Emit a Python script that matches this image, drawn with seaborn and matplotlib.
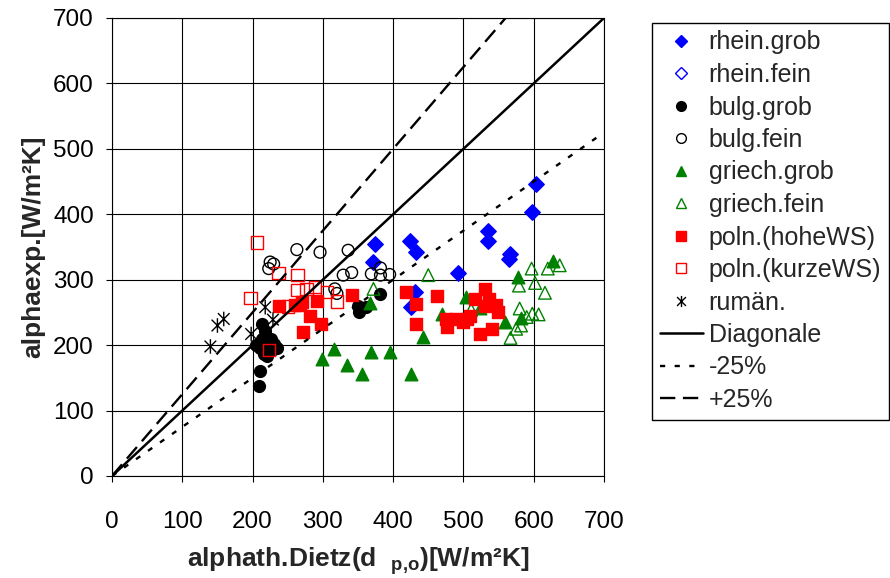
import numpy as np
import pandas as pd
import matplotlib
matplotlib.use("Agg")
import matplotlib.pyplot as plt
from matplotlib.path import Path
from matplotlib.lines import Line2D
import seaborn as sns

# ---- measured values [W/m²K]: theoretical (Dietz) vs. experimental ----
rhein_grob_x = [372, 374, 424, 432, 426, 431, 492, 535, 535, 566, 565, 598, 603]
rhein_grob_y = [327, 354, 359, 342, 258, 281, 310, 375, 359, 340, 332, 403, 447]

rhein_fein_x = []
rhein_fein_y = []

bulg_grob_x = [209, 211, 214, 218, 214, 222, 211, 228, 220, 235, 226, 216, 205, 230,
               350, 352, 362, 381]
bulg_grob_y = [138, 161, 233, 222, 210, 200, 196, 192, 184, 195, 210, 186, 200, 202,
               260, 250, 258, 278]

bulg_fein_x = [223, 225, 230, 263, 296, 336, 317, 320, 329, 341, 369, 382, 382, 395]
bulg_fein_y = [317, 327, 324, 346, 342, 345, 286, 279, 307, 311, 309, 318, 307, 308]

griech_grob_x = [299, 316, 335, 355, 367, 369, 395, 426, 443, 469, 503, 523, 559, 578, 582, 628]
griech_grob_y = [179, 194, 170, 156, 265, 189, 189, 156, 213, 248, 273, 257, 236, 304, 242, 328]

griech_fein_x = [372, 450, 511, 567, 575, 582, 590, 580, 598, 607, 579, 602, 616, 597, 620, 637]
griech_fein_y = [286, 307, 254, 211, 225, 230, 243, 256, 248, 247, 291, 295, 280, 317, 317, 322]

poln_hohe_x = [237, 261, 270, 291, 268, 282, 298, 272, 341, 419, 433, 432, 462, 475,
               477, 490, 505, 516, 530, 537, 547, 549, 523, 540, 530, 500, 510]
poln_hohe_y = [260, 262, 266, 268, 261, 245, 233, 220, 276, 281, 263, 232, 275, 240,
               228, 240, 240, 271, 286, 271, 261, 250, 217, 225, 260, 235, 245]

poln_kurz_x = [197, 206, 223, 237, 250, 264, 264, 277, 289, 306, 320]
poln_kurz_y = [272, 357, 193, 310, 259, 307, 284, 286, 289, 281, 267]

rumaen_x = [140, 150, 159, 198, 218, 229]
rumaen_y = [198, 230, 240, 217, 258, 239]

series_names = ["rhein.grob", "rhein.fein", "bulg.grob", "bulg.fein", "griech.grob",
                "griech.fein", "poln.(hoheWS)", "poln.(kurzeWS)", "rumän."]
ticks = [0, 100, 200, 300, 400, 500, 600, 700]
ref_factors = [1.0, 0.75, 1.25]
ref_names = ["Diagonale", "-25%", "+25%"]

# ---- styling ----
sns.set_style("white")
plt.rcParams["font.family"] = ["Liberation Sans", "DejaVu Sans"]
plt.rcParams["mathtext.fontset"] = "custom"
plt.rcParams["mathtext.rm"] = "Liberation Sans"
plt.rcParams["mathtext.bf"] = "Liberation Sans:bold"

TICK_FS = 17.5
LEGEND_FS = 18
LABEL_FS = 19

# asterisk: X with a vertical bar
star_path = Path(
    [(0, -1), (0, 1), (-0.8, -0.8), (0.8, 0.8), (-0.8, 0.8), (0.8, -0.8)],
    [Path.MOVETO, Path.LINETO, Path.MOVETO, Path.LINETO, Path.MOVETO, Path.LINETO],
)

BLUE, GREEN, RED, BLACK = "#0000ff", "#008000", "#ff0000", "#000000"
styles = {
    "rhein.grob":     dict(marker="D", s=62, fc=BLUE, ec=BLUE),
    "rhein.fein":     dict(marker="D", s=62, fc="none", ec=BLUE),
    "bulg.grob":      dict(marker="o", s=72, fc=BLACK, ec=BLACK),
    "bulg.fein":      dict(marker="o", s=72, fc="none", ec=BLACK),
    "griech.grob":    dict(marker="^", s=82, fc=GREEN, ec=GREEN),
    "griech.fein":    dict(marker="^", s=82, fc="none", ec=GREEN),
    "poln.(hoheWS)":  dict(marker="s", s=80, fc=RED, ec=RED),
    "poln.(kurzeWS)": dict(marker="s", s=80, fc="none", ec=RED),
    "rumän.":         dict(marker=star_path, s=110, fc="none", ec=BLACK),
}

xs = [rhein_grob_x, rhein_fein_x, bulg_grob_x, bulg_fein_x, griech_grob_x,
      griech_fein_x, poln_hohe_x, poln_kurz_x, rumaen_x]
ys = [rhein_grob_y, rhein_fein_y, bulg_grob_y, bulg_fein_y, griech_grob_y,
      griech_fein_y, poln_hohe_y, poln_kurz_y, rumaen_y]

df = pd.concat(
    [pd.DataFrame({"x": x, "y": y, "serie": n}) for n, x, y in zip(series_names, xs, ys)],
    ignore_index=True,
)

fig = plt.figure(figsize=(8.9, 5.78), dpi=100)
ax = fig.add_axes([112 / 890, 1 - 476 / 578, (604 - 112) / 890, (476 - 18) / 578])

for name in series_names:
    sub = df[df["serie"] == name]
    if sub.empty:
        continue
    st = styles[name]
    sns.scatterplot(data=sub, x="x", y="y", ax=ax, marker=st["marker"], s=st["s"],
                    facecolor=st["fc"], edgecolor=st["ec"], linewidth=1.0,
                    zorder=3, legend=False)

# reference lines y = f * x
line_x = np.array([0, 700])
ref_styles = [
    dict(color=BLACK, lw=1.8, ls="-"),
    dict(color=BLACK, lw=1.7, dashes=(2.2, 4.0)),
    dict(color=BLACK, lw=1.7, dashes=(6.5, 3.2)),
]
for f, kw in zip(ref_factors, ref_styles):
    sns.lineplot(x=line_x, y=f * line_x, ax=ax, zorder=4, **kw)

ax.set_xlim(0, 700)
ax.set_ylim(0, 700)
ax.set_xticks(ticks)
ax.set_yticks(ticks)
ax.grid(True, color="black", lw=0.8, zorder=0)
ax.set_axisbelow(True)
for sp in ax.spines.values():
    sp.set_color("black")
    sp.set_linewidth(0.8)
ax.tick_params(axis="both", direction="out", length=4, width=0.8, colors="black",
               labelsize=TICK_FS)
ax.tick_params(axis="x", pad=21)
ax.tick_params(axis="y", pad=9)
ax.tick_params(bottom=True, left=True)

ax.set_xlabel(r"alphath.Dietz(d  $_{\mathbf{p{,}o}}$)[W/m²K]", fontsize=LABEL_FS,
              fontweight="bold", labelpad=9)
ax.set_ylabel("alphaexp.[W/m²K]", fontsize=LABEL_FS, fontweight="bold", labelpad=6)

# legend
leg_ms = {"D": 6, "o": 7, "^": 7, "s": 7}
handles = []
for name in series_names:
    st = styles[name]
    m = st["marker"]
    ms = leg_ms.get(m, 8) if isinstance(m, str) else 8
    handles.append(Line2D([], [], ls="none", marker=m, markersize=ms,
                          markerfacecolor=st["fc"], markeredgecolor=st["ec"],
                          markeredgewidth=1.0))
for kw in ref_styles:
    handles.append(Line2D([], [], **kw))
labels = series_names + ref_names

fig.legend(handles, labels, loc="upper left", bbox_to_anchor=(652 / 890, 1 - 22.5 / 578),
           borderaxespad=0, fontsize=LEGEND_FS, frameon=True, fancybox=False,
           edgecolor="black", framealpha=1, handlelength=1.7, handletextpad=0.25,
           labelspacing=0.34, borderpad=0.32)

fig.savefig("out.png", dpi=100)
